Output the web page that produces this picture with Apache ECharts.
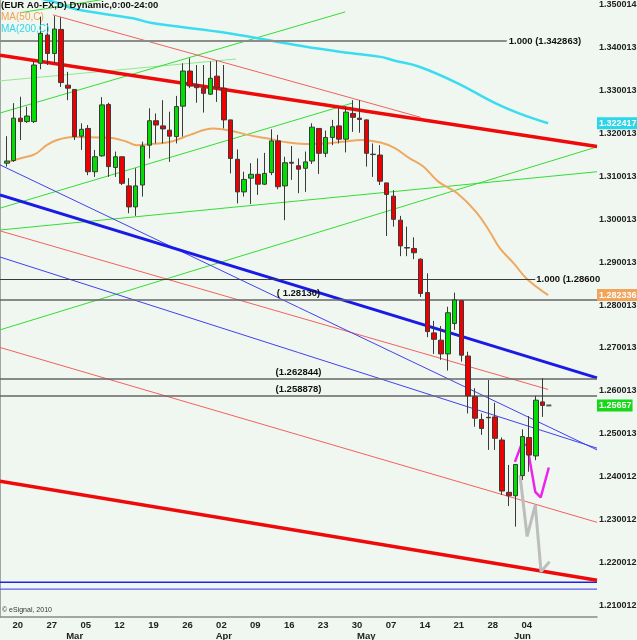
<!DOCTYPE html>
<html><head><meta charset="utf-8">
<script src="https://cdn.jsdelivr.net/npm/echarts@6/dist/echarts.min.js"></script>
<style>html,body{margin:0;padding:0;background:#f0f7f0}#c{width:637px;height:640px}</style>
</head><body><div id="c"></div>
<script>
const FONT = "'Liberation Sans',Arial,sans-serif";

// ---- categories (trading days) ----
const categories = [];
(function () {
  const d = new Date(Date.UTC(2010, 1, 16));
  while (categories.length < 89) {
    const wd = d.getUTCDay();
    if (wd !== 0 && wd !== 6) categories.push(d.toISOString().slice(0, 10));
    d.setUTCDate(d.getUTCDate() + 1);
  }
})();

// ---- tick labels ----
const weekTicks = [3, 8, 13, 18, 23, 28, 33, 38, 43, 48, 53, 58, 63, 68, 73, 78];
const weekLabels = ['20', '27', '05', '12', '19', '26', '02', '09', '16', '23', '30', '07', '14', '21', '28', '04'];
const monthTicks = [11, 33, 54, 77];
const monthLabels = ['Mar', 'Apr', 'May', 'Jun'];
const yTickValues = [1.21, 1.22, 1.23, 1.24, 1.25, 1.26, 1.27, 1.28, 1.29, 1.30, 1.31, 1.32, 1.33, 1.34, 1.35];
const yTickLabels = ['1.210012', '1.220012', '1.230012', '1.240012', '1.250013', '1.260013', '1.270013', '1.280013', '1.290013', '1.300013', '1.310013', '1.320013', '1.330013', '1.340013', '1.350014'];

// ---- candles (day index 1..80) ----
const candleOpen = [1.3131,1.3137,1.3236,1.3228,1.3228,1.3364,1.3430,1.3387,1.3443,1.3313,1.3303,1.3194,1.3212,1.3111,1.3148,1.3268,1.3121,1.3146,1.3078,1.3029,1.3080,1.3173,1.3230,1.3218,1.3208,1.3193,1.3264,1.3346,1.3313,1.3306,1.3292,1.3334,1.3306,1.3232,1.3140,1.3064,1.3096,1.3105,1.3082,1.3109,1.3183,1.3078,1.3133,1.3125,1.3119,1.3136,1.3212,1.3154,1.3191,1.3218,1.3187,1.3247,1.3236,1.3232,1.3152,1.3150,1.3085,1.3054,1.2998,1.2934,1.2932,1.2907,1.2829,1.2735,1.2718,1.2686,1.2757,1.2810,1.2681,1.2586,1.2533,1.2538,1.2539,1.2485,1.2363,1.2355,1.2402,1.2491,1.2448,1.2574];
const candleClose = [1.3136,1.3236,1.3228,1.3241,1.3360,1.3434,1.3387,1.3444,1.3319,1.3306,1.3193,1.3210,1.3111,1.3146,1.3267,1.3123,1.3146,1.3084,1.3029,1.3078,1.3171,1.3230,1.3220,1.3211,1.3194,1.3263,1.3346,1.3311,1.3307,1.3294,1.3329,1.3307,1.3232,1.3142,1.3064,1.3093,1.3105,1.3082,1.3107,1.3183,1.3076,1.3132,1.3131,1.3117,1.3134,1.3215,1.3154,1.3191,1.3216,1.3187,1.3250,1.3238,1.3233,1.3154,1.3151,1.3089,1.3058,1.3000,1.2938,1.2933,1.2922,1.2827,1.2738,1.2720,1.2686,1.2782,1.2812,1.2683,1.2588,1.2536,1.2512,1.2537,1.2489,1.2366,1.2355,1.2428,1.2493,1.2450,1.2578,1.25657];
const candleLow = [1.3123,1.3134,1.3185,1.3225,1.3225,1.3350,1.3360,1.3364,1.3309,1.3278,1.3185,1.3162,1.3103,1.3099,1.3146,1.3099,1.3099,1.3080,1.3014,1.3008,1.3053,1.3142,1.3177,1.3177,1.3134,1.3177,1.3193,1.3306,1.3272,1.3249,1.3290,1.3274,1.3212,1.3107,1.3037,1.3053,1.3036,1.3057,1.3080,1.3103,1.3070,1.2998,1.3092,1.3061,1.3064,1.3129,1.3106,1.3145,1.3173,1.3177,1.3156,1.3204,1.3202,1.3123,1.3099,1.3080,1.2961,1.2983,1.2914,1.2914,1.2907,1.2819,1.2725,1.2686,1.2672,1.2647,1.2742,1.2668,1.2547,1.2516,1.2497,1.2462,1.2462,1.2357,1.2331,1.2283,1.2392,1.2411,1.2438,1.2539];
const candleHigh = [1.3194,1.3271,1.3286,1.3263,1.3368,1.3473,1.3457,1.3474,1.3471,1.3344,1.3303,1.3224,1.3220,1.3162,1.3285,1.3272,1.3158,1.3146,1.3096,1.3119,1.3181,1.3259,1.3247,1.3278,1.3251,1.3288,1.3364,1.3376,1.3360,1.3360,1.3368,1.3370,1.3360,1.3232,1.3163,1.3111,1.3131,1.3142,1.3155,1.3210,1.3197,1.3146,1.3171,1.3142,1.3158,1.3224,1.3212,1.3207,1.3232,1.3259,1.3263,1.3278,1.3278,1.3233,1.3177,1.3173,1.3085,1.3068,1.3008,1.2983,1.2958,1.2909,1.2874,1.2763,1.2751,1.2796,1.2829,1.2812,1.2691,1.2606,1.2547,1.2625,1.2572,1.2491,1.2427,1.2428,1.2510,1.2541,1.2588,1.2629];
const firstCandleIndex = 1;

// ---- moving averages [day index, price] ----
const ma50 = [[0.84,1.3132],[2.95,1.3142],[5.16,1.3152],[6.88,1.3173],[8.4,1.3185],[10.8,1.3192],[14.74,1.3191],[16.8,1.3189],[18.68,1.3181],[20.15,1.3173],[22.4,1.3176],[25.2,1.3181],[28.0,1.3197],[31.4,1.3212],[33.7,1.3208],[36.5,1.3197],[39.3,1.3189],[42.5,1.3179],[44.9,1.3176],[47.7,1.3177],[50.5,1.3181],[53.3,1.3185],[56.1,1.3179],[58.2,1.3166],[60.4,1.3142],[62.4,1.3123],[64.6,1.3088],[67.4,1.3061],[70.2,1.3017],[72.2,1.2971],[73.7,1.2932],[75.8,1.2896],[77.6,1.2862],[80.8,1.2823]];
const ma200 = [[0,1.3535],[7.8,1.3508],[11.2,1.3490],[19.6,1.3469],[22.4,1.3458],[33.7,1.3434],[44.9,1.3403],[51.6,1.3388],[56.1,1.3379],[58.2,1.3370],[61.8,1.3356],[67.4,1.3318],[73.0,1.3271],[76.7,1.3246],[80.8,1.3224]];

// ---- trend lines [day index, price] ----
const redThickTop = [[0,1.3383],[88,1.3170]];
const redThinTop = [[7.8,1.3477],[62,1.3238]];
const redThinMid = [[0,1.2973],[80.8,1.2603]];
const redThinLow = [[0,1.2701],[88,1.2293]];
const redThickLow = [[0,1.2389],[88,1.2158]];
const blueThick = [[0,1.3057],[88,1.2630]];
const blueThinA = [[0,1.3127],[88,1.2462]];
const blueThinB = [[0,1.2912],[88,1.2466]];
const blueFlat1 = [[0,1.2153],[88,1.2153]];
const blueFlat2 = [[0,1.2137],[88,1.2137]];
const greenA = [[0,1.3323],[34.8,1.3374]];
const greenB = [[0,1.3248],[50.9,1.3484]];
const greenC = [[0,1.3026],[51.9,1.3271]];
const greenD = [[0,1.2975],[88,1.3111]];
const greenE = [[0,1.2742],[88,1.3169]];
const greenTop = [[3,1.3482],[16,1.3515]];
const projMagenta = [[75.9,1.2434],[76.9,1.2476],[77.7,1.2473],[78.9,1.2364],[79.7,1.2351],[80.9,1.2421]];
const projGray = [[76.65,1.2403],[77.7,1.2260],[78.9,1.2333],[79.75,1.2178],[81.0,1.2201]];

// ---- levels ----
const fibTop = {value: 1.3416, end: 74.7, text: '1.000 (1.342863)'};
const fibMid = {value: 1.2860, end: 78.9, text: '1.000 (1.286000)'};
const levelLines = [{value: 1.2813, text: '( 1.28130)'}, {value: 1.262844, text: '(1.262844)'}, {value: 1.258878, text: '(1.258878)'}];
const priceBoxes = [{value: 1.322417, text: '1.322417', color: '#2cd6e8'}, {value: 1.282336, text: '1.282336', color: '#f2a45a'}, {value: 1.25657, text: '1.25657', color: '#16d816'}];
const lastPrice = [[80.9, 1.25657]];

const candleData = candleOpen.map((o, k) => [k + firstCandleIndex, o, candleClose[k], candleLow[k], candleHigh[k]]);

function seg(pts, color, width, z) {
  return {type: 'line', xAxisIndex: 1, yAxisIndex: 0, data: pts, symbol: 'none', silent: true,
    lineStyle: {color: color, width: width}, z: z || 2, animation: false};
}
const LBL = {fontSize: 9.5, fontWeight: 'bold', fontFamily: FONT, color: '#111'};

const markData = [];
markData.push([{coord: [0, fibTop.value], lineStyle: {color: '#8c8c8c', width: 2, type: 'solid'},
  label: Object.assign({show: true, position: 'end', formatter: fibTop.text, distance: 2, padding: [0, 0, 13, 0]}, LBL)},
  {coord: [fibTop.end, fibTop.value]}]);
markData.push([{coord: [0, fibMid.value], lineStyle: {color: '#3a3a3a', width: 1, type: 'solid'},
  label: Object.assign({show: true, position: 'end', formatter: fibMid.text, distance: 1, padding: [0, 0, 12, 0], width: 66, overflow: 'truncate', ellipsis: ''}, LBL)},
  {coord: [fibMid.end, fibMid.value]}]);
levelLines.forEach(l => markData.push({yAxis: l.value, lineStyle: {color: '#666', width: 1.5, type: 'solid'},
  label: Object.assign({show: true, position: 'insideMiddleTop', formatter: l.text, distance: 1}, LBL)}));
priceBoxes.forEach(b => markData.push({yAxis: b.value, lineStyle: {color: 'rgba(0,0,0,0)', width: 0},
  label: Object.assign({}, LBL, {show: true, position: 'end', formatter: b.text, distance: 0, fontSize: 9, color: '#fff', backgroundColor: b.color, padding: [2, 1, 1, 2]})}));

const chart = echarts.init(document.getElementById('c'), null, {renderer: 'canvas'});
chart.setOption({
  animation: false,
  backgroundColor: '#f0f7f0',
  textStyle: {fontFamily: FONT},
  title: [
    {text: '(EUR A0-FX,D) Dynamic,0:00-24:00', left: 0, top: 0, padding: [0, 0, 0, 1], textStyle: {fontSize: 9.5, fontWeight: 'bold', fontFamily: FONT, color: '#111'}},
    {text: 'MA(50,C)', left: 0, top: 12, padding: [0, 0, 0, 1], textStyle: {fontSize: 10, fontWeight: 'normal', fontFamily: FONT, color: '#f0a050'}},
    {text: 'MA(200,C)', left: 0, top: 24, padding: [0, 0, 0, 1], textStyle: {fontSize: 10, fontWeight: 'normal', fontFamily: FONT, color: '#30d4ec'}},
    {text: '\u00a9 eSignal, 2010', left: 2, top: 607, padding: 0, textStyle: {fontSize: 7, fontWeight: 'normal', fontFamily: FONT, color: '#333'}}
  ],
  grid: {left: 0, right: 40, top: 0, bottom: 23, containLabel: false, outerBoundsMode: 'none'},
  xAxis: [
    {type: 'category', data: categories, boundaryGap: false, position: 'bottom',
      axisLine: {show: true, lineStyle: {color: '#8a8a8a', width: 1.5}}, axisTick: {show: false}, splitLine: {show: false},
      axisLabel: {interval: (i) => weekTicks.indexOf(i) >= 0, formatter: (v, i) => weekLabels[weekTicks.indexOf(i)] || '',
        margin: 3, fontSize: 9.5, fontWeight: 'bold', fontFamily: FONT, color: '#222', padding: [0, 5, 0, 0]}},
    {type: 'value', min: 0, max: 88, show: false},
    {type: 'category', data: categories, boundaryGap: false, position: 'bottom',
      axisLine: {show: false}, axisTick: {show: false}, splitLine: {show: false},
      axisLabel: {interval: (i) => monthTicks.indexOf(i) >= 0, formatter: (v, i) => monthLabels[monthTicks.indexOf(i)] || '',
        margin: 14, fontSize: 9.5, fontWeight: 'bold', fontFamily: FONT, color: '#222'}}
  ],
  yAxis: [{type: 'value', position: 'right', min: 1.20721, max: 1.35117, scale: true,
    axisLine: {show: true, lineStyle: {color: '#8a8a8a', width: 1.5}}, axisTick: {show: false}, splitLine: {show: false},
    axisLabel: {customValues: yTickValues, formatter: (v) => yTickLabels[Math.round((v - 1.21) / 0.01)] || '',
      margin: 2, fontSize: 9, fontWeight: 'bold', fontFamily: FONT, color: '#222'}}],
  series: [
    seg(greenTop, '#33dd33', 1), seg(greenA, '#8fe88f', 1), seg(greenB, '#33dd33', 1), seg(greenC, '#33dd33', 1),
    seg(greenD, '#33dd33', 1), seg(greenE, '#33dd33', 1),
    seg(redThinTop, '#f46060', 1), seg(redThinMid, '#f46060', 1), seg(redThinLow, '#f46060', 1),
    seg(blueThinA, '#4040ee', 1), seg(blueThinB, '#4040ee', 1),
    seg(blueFlat1, '#2020ee', 1.5), seg(blueFlat2, '#5a5aee', 1.2),
    seg(redThickTop, '#ee0a0a', 3.5, 3), seg(redThickLow, '#ee0a0a', 3.5, 3), seg(blueThick, '#1a1ae6', 3, 3),
    {type: 'line', xAxisIndex: 1, yAxisIndex: 0, data: [], silent: true, z: 4,
      markLine: {symbol: ['none', 'none'], silent: true, animation: false, precision: 6,
        label: LBL, data: markData}},
    {type: 'line', name: 'MA(50,C)', xAxisIndex: 1, yAxisIndex: 0, data: ma50, smooth: 0.4, symbol: 'none', silent: true, lineStyle: {color: '#f0a860', width: 2}, z: 3},
    {type: 'line', name: 'MA(200,C)', xAxisIndex: 1, yAxisIndex: 0, data: ma200, smooth: 0.4, symbol: 'none', silent: true, lineStyle: {color: '#3cdcf0', width: 2.5}, z: 3},
    seg(projGray, '#bdbdbd', 3, 3), seg(projMagenta, '#ee22ee', 2.5, 3),
    {type: 'candlestick', xAxisIndex: 0, yAxisIndex: 0, data: candleData, encode: {x: 0, y: [1, 2, 3, 4]}, barWidth: 5, z: 5, silent: true,
      itemStyle: {color: '#00dd00', color0: '#ee0000', borderColor: '#3a3a3a', borderColor0: '#3a3a3a', borderColorDoji: '#3a3a3a', borderWidth: 1}},
    {type: 'scatter', xAxisIndex: 1, yAxisIndex: 0, data: lastPrice, symbol: 'rect', symbolSize: [5, 2], itemStyle: {color: '#333'}, z: 6, silent: true}
  ]
});
</script></body></html>
